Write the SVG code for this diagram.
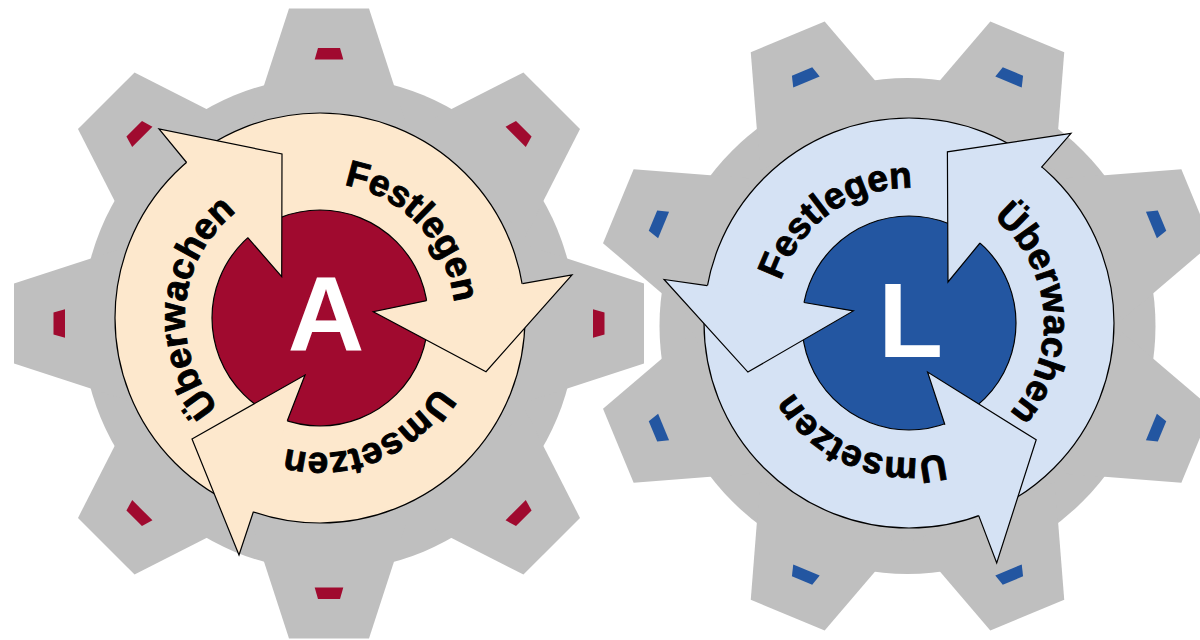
<svg xmlns="http://www.w3.org/2000/svg" xmlns:xlink="http://www.w3.org/1999/xlink" width="1200" height="640" viewBox="0 0 1200 640">
  <style>
    .gear { fill: #bfbfbf; }
    .ring { stroke: #000; stroke-width: 1.2; }
    .a-ring { fill: #fde8cd; }
    .l-ring { fill: #d5e2f4; }
    .a-core { fill: #a00a2f; }
    .l-core { fill: #2356a1; }
    .head { stroke: #000; stroke-width: 1.2; stroke-linejoin: miter; }
    .lbl { font-family: "Liberation Sans", Arial, sans-serif; font-weight: bold; font-size: 37px; fill: #000; stroke: #000; stroke-width: 0.9; text-anchor: middle; }
    .big { font-family: "Liberation Sans", Arial, sans-serif; font-weight: bold; font-size: 106px; fill: #fff; text-anchor: middle; }
  </style>
  <defs>
    <!-- one tooth, pointing up from the gear centre -->
    <polygon id="tooth-a" points="-40,-315 40,-315 77.4,-200 -77.4,-200"/>
    <polygon id="tooth-l" points="-40,-313 40,-313 76.7,-200 -76.7,-200"/>
    <!-- small coloured mark on each tooth -->
    <polygon id="notch" points="-11,-275.5 11,-275.5 14.3,-264 -14.3,-264"/>
    <!-- clockwise text circles (r = 135) -->
    <path id="arc-a" d="M242.57,428.59 A135,135 0 1,1 397.43,207.41 A135,135 0 1,1 242.57,428.59"/>
    <path id="arc-l" d="M776.05,346.44 A135,135 0 1,1 1041.95,299.56 A135,135 0 1,1 776.05,346.44"/>
  </defs>

  <!-- gear A -->
  <g id="gear-a">
    <g class="gear" transform="translate(329,323.5)">
      <circle r="247"/>
      <use xlink:href="#tooth-a"/>
      <use xlink:href="#tooth-a" transform="rotate(45)"/>
      <use xlink:href="#tooth-a" transform="rotate(90)"/>
      <use xlink:href="#tooth-a" transform="rotate(135)"/>
      <use xlink:href="#tooth-a" transform="rotate(180)"/>
      <use xlink:href="#tooth-a" transform="rotate(225)"/>
      <use xlink:href="#tooth-a" transform="rotate(270)"/>
      <use xlink:href="#tooth-a" transform="rotate(315)"/>
    </g>
    <g fill="#a00a2f" transform="translate(329,323.5)">
      <use xlink:href="#notch"/>
      <use xlink:href="#notch" transform="rotate(45)"/>
      <use xlink:href="#notch" transform="rotate(90)"/>
      <use xlink:href="#notch" transform="rotate(135)"/>
      <use xlink:href="#notch" transform="rotate(180)"/>
      <use xlink:href="#notch" transform="rotate(225)"/>
      <use xlink:href="#notch" transform="rotate(270)"/>
      <use xlink:href="#notch" transform="rotate(315)"/>
    </g>
  </g>

  <!-- gear L -->
  <g id="gear-l">
    <g class="gear" transform="translate(907.5,326) rotate(22.5)">
      <circle r="248"/>
      <use xlink:href="#tooth-l"/>
      <use xlink:href="#tooth-l" transform="rotate(45)"/>
      <use xlink:href="#tooth-l" transform="rotate(90)"/>
      <use xlink:href="#tooth-l" transform="rotate(135)"/>
      <use xlink:href="#tooth-l" transform="rotate(180)"/>
      <use xlink:href="#tooth-l" transform="rotate(225)"/>
      <use xlink:href="#tooth-l" transform="rotate(270)"/>
      <use xlink:href="#tooth-l" transform="rotate(315)"/>
    </g>
    <g fill="#2356a1" transform="translate(907.5,326) rotate(22.5)">
      <use xlink:href="#notch"/>
      <use xlink:href="#notch" transform="rotate(45)"/>
      <use xlink:href="#notch" transform="rotate(90)"/>
      <use xlink:href="#notch" transform="rotate(135)"/>
      <use xlink:href="#notch" transform="rotate(180)"/>
      <use xlink:href="#notch" transform="rotate(225)"/>
      <use xlink:href="#notch" transform="rotate(270)"/>
      <use xlink:href="#notch" transform="rotate(315)"/>
    </g>
  </g>

  <!-- cycle A: ring, core and three arrow heads (clockwise) -->
  <g id="cycle-a">
    <circle class="ring a-ring" cx="320" cy="318" r="205"/>
    <circle class="ring a-core" cx="320" cy="318" r="108"/>
    <path class="head a-ring" d="M522.5,283.7 L572,275 L486,371.7 L373.3,311.7 L426.5,300.7"/>
    <path class="head a-ring" d="M253.4,511.8 L239,555 L192,439 L305,375 L287.3,420.7"/>
    <path class="head a-ring" d="M186.6,162.5 L159,129 L282,154 L281.7,276.7 L247.8,237.6"/>
    <text class="lbl"><textPath xlink:href="#arc-a" startOffset="141.8">Überwachen</textPath></text>
    <text class="lbl"><textPath xlink:href="#arc-a" startOffset="451.8">Festlegen</textPath></text>
    <text class="lbl"><textPath xlink:href="#arc-a" startOffset="712.8">Umsetzen</textPath></text>
    <text class="big" x="326" y="351">A</text>
  </g>

  <!-- cycle L: ring, core and three arrow heads (counter-clockwise) -->
  <g id="cycle-l">
    <circle class="ring l-ring" cx="909" cy="323" r="205"/>
    <circle class="ring l-core" cx="909" cy="323" r="107"/>
    <path class="head l-ring" d="M707.2,285.6 L664.1,279.5 L747.9,372.1 L853.3,310.9 L804,302.5"/>
    <path class="head l-ring" d="M1041.4,167.3 L1071,133.4 L947.4,151.8 L948,282 L980,243"/>
    <path class="head l-ring" d="M978.7,515.6 L996.7,563 L1036.2,439.8 L927.6,372.1 L944.9,424.8"/>
    <text class="lbl"><textPath xlink:href="#arc-l" startOffset="152.7">Festlegen</textPath></text>
    <text class="lbl"><textPath xlink:href="#arc-l" startOffset="436.4">Überwachen</textPath></text>
    <text class="lbl"><textPath xlink:href="#arc-l" startOffset="711.6">Umsetzen</textPath></text>
    <text class="big" x="910.5" y="356.5">L</text>
  </g>
</svg>
